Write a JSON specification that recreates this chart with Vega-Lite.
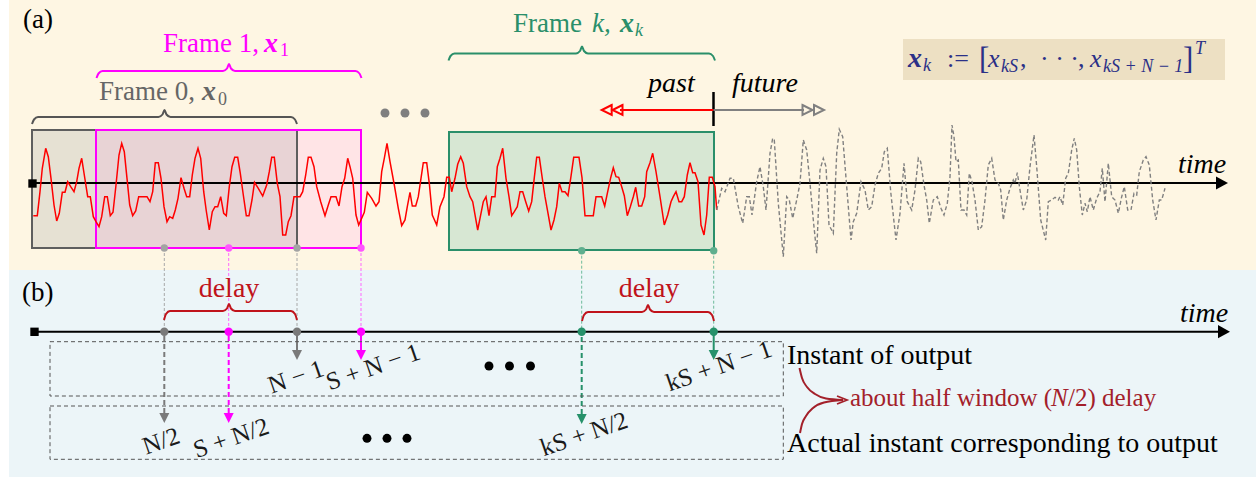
{
  "$schema": "https://vega.github.io/schema/vega-lite/v6.json",
  "width": 1256,
  "height": 477,
  "autosize": {"type": "fit", "contains": "padding"},
  "padding": 0,
  "background": "#ffffff",
  "config": {"view": {"stroke": null}, "text": {"font": "Liberation Serif"}},
  "datasets": {
    "sig": [
      {"x":33.3,"y":215.7},{"x":37.3,"y":215.7},{"x":40,"y":191.7},{"x":42.3,"y":168.3},{"x":45.7,"y":148.3},{"x":48.3,"y":156.7},{"x":51,"y":178.3},{"x":54,"y":205},{"x":56.7,"y":221},{"x":59.3,"y":213.3},{"x":62.3,"y":192.3},{"x":65,"y":192.3},{"x":67.7,"y":181.7},{"x":70.7,"y":186.7},{"x":74,"y":191.7},{"x":76.7,"y":181.7},{"x":79,"y":168.3},{"x":81.7,"y":158.3},{"x":84.3,"y":175},{"x":87.7,"y":196.7},{"x":90.3,"y":196.7},{"x":93.3,"y":216.7},{"x":96,"y":221.7},{"x":99,"y":226.7},{"x":101.7,"y":216.7},{"x":104.7,"y":196.7},{"x":107.3,"y":196.7},{"x":110.3,"y":215.7},{"x":113,"y":212.3},{"x":116,"y":185},{"x":119,"y":155},{"x":121.7,"y":143.3},{"x":124.3,"y":151.7},{"x":127,"y":178.3},{"x":129.7,"y":205},{"x":132.7,"y":215.7},{"x":135.7,"y":211},{"x":138.7,"y":196.7},{"x":144,"y":196.7},{"x":147,"y":196.7},{"x":150,"y":201.7},{"x":152.7,"y":191.7},{"x":155.3,"y":162.7},{"x":158.3,"y":162.7},{"x":161,"y":178.3},{"x":164,"y":206.7},{"x":167,"y":221.7},{"x":169.7,"y":216.7},{"x":172.7,"y":218.3},{"x":175.3,"y":210},{"x":178,"y":198.3},{"x":181,"y":177.7},{"x":184,"y":188.3},{"x":186.7,"y":196.7},{"x":189.7,"y":196.7},{"x":192.3,"y":175},{"x":195,"y":158.3},{"x":198,"y":148.3},{"x":200.7,"y":158.3},{"x":203.7,"y":191.7},{"x":206.3,"y":211},{"x":209.3,"y":230},{"x":212.3,"y":211.7},{"x":215,"y":206.7},{"x":217.7,"y":206.7},{"x":220.7,"y":196.7},{"x":223.7,"y":213.3},{"x":226.3,"y":215.7},{"x":229.3,"y":186.7},{"x":232,"y":166.7},{"x":234.7,"y":157.3},{"x":237.7,"y":157.3},{"x":240.3,"y":173.3},{"x":243.3,"y":195},{"x":246.3,"y":215.7},{"x":249,"y":215.7},{"x":252,"y":200},{"x":254.5,"y":182.3},{"x":258.3,"y":188.3},{"x":262.7,"y":196},{"x":266.7,"y":185},{"x":269.3,"y":171.7},{"x":271.7,"y":157.3},{"x":274.3,"y":157.3},{"x":277.3,"y":183.3},{"x":280,"y":196.7},{"x":282.7,"y":235},{"x":285.7,"y":235},{"x":288.3,"y":221.7},{"x":291,"y":215.7},{"x":294,"y":196.7},{"x":296.7,"y":196.7},{"x":300,"y":196.7},{"x":302.7,"y":191.7},{"x":305.7,"y":175},{"x":308.3,"y":157.3},{"x":311,"y":157.3},{"x":314,"y":166.7},{"x":316.7,"y":186.7},{"x":320.7,"y":201.7},{"x":325,"y":215.7},{"x":328.3,"y":205},{"x":331,"y":196.7},{"x":336,"y":196.7},{"x":339,"y":206},{"x":342,"y":186.7},{"x":344.7,"y":178.3},{"x":347.7,"y":158.3},{"x":350,"y":166.7},{"x":352.7,"y":178.3},{"x":356,"y":215},{"x":358.7,"y":225},{"x":361.7,"y":218.3},{"x":364.3,"y":212.3},{"x":367.3,"y":192.3},{"x":371.7,"y":198.3},{"x":376,"y":206},{"x":379,"y":201.7},{"x":381.7,"y":171.7},{"x":384.3,"y":158.3},{"x":387,"y":143.3},{"x":390,"y":161.7},{"x":394.3,"y":185},{"x":398.3,"y":208.3},{"x":401.7,"y":225.7},{"x":405,"y":220},{"x":407.3,"y":206.7},{"x":410,"y":192.3},{"x":412.3,"y":206},{"x":415.7,"y":206},{"x":418.3,"y":196.7},{"x":421,"y":178.3},{"x":423.3,"y":162.7},{"x":426.7,"y":162.7},{"x":429.3,"y":183.3},{"x":432.3,"y":215},{"x":436.7,"y":225},{"x":440,"y":206.7},{"x":444,"y":196.7},{"x":446.7,"y":177.3},{"x":449.3,"y":177.3},{"x":451.7,"y":191.7},{"x":455,"y":178.3},{"x":457.7,"y":164.3},{"x":460.7,"y":156.7},{"x":463.3,"y":163.3},{"x":466.7,"y":186.7},{"x":470,"y":196.7},{"x":472.7,"y":201.7},{"x":477.7,"y":230},{"x":483.3,"y":201.7},{"x":486,"y":196.7},{"x":489,"y":215.7},{"x":491.7,"y":196.7},{"x":495,"y":196.7},{"x":497.3,"y":166.7},{"x":500,"y":158.3},{"x":502.7,"y":148.3},{"x":506,"y":178.3},{"x":509,"y":196.7},{"x":511.7,"y":215.7},{"x":514.3,"y":211.7},{"x":517.3,"y":206.7},{"x":520,"y":191.7},{"x":522.7,"y":191.7},{"x":525.7,"y":201.7},{"x":528.7,"y":211},{"x":531.7,"y":201.7},{"x":534.3,"y":177.7},{"x":536.7,"y":157.3},{"x":539.3,"y":157.3},{"x":542.3,"y":178.3},{"x":545,"y":196.7},{"x":547.7,"y":211.7},{"x":551,"y":230},{"x":554,"y":220},{"x":556.7,"y":206.7},{"x":559.3,"y":183.3},{"x":562,"y":191.7},{"x":565,"y":191.7},{"x":568,"y":195.7},{"x":570.7,"y":178.3},{"x":573.7,"y":157.3},{"x":579,"y":157.3},{"x":582,"y":177.7},{"x":585,"y":215.7},{"x":593.3,"y":215.7},{"x":596,"y":196.7},{"x":601.7,"y":196.7},{"x":604.7,"y":206},{"x":607.7,"y":191.7},{"x":610.7,"y":177.7},{"x":613.3,"y":167.7},{"x":616,"y":176.7},{"x":618.7,"y":177.3},{"x":621.7,"y":186.7},{"x":624.3,"y":195.7},{"x":627.3,"y":215.7},{"x":630.3,"y":206.7},{"x":633.3,"y":196.7},{"x":635.7,"y":187.3},{"x":638.7,"y":206},{"x":641.7,"y":206},{"x":644.7,"y":196.7},{"x":646.7,"y":171.7},{"x":650,"y":162.7},{"x":652.7,"y":153.3},{"x":656,"y":171.7},{"x":660,"y":196.7},{"x":664.3,"y":225},{"x":667.7,"y":215},{"x":671,"y":201.7},{"x":673.3,"y":196.7},{"x":676,"y":191.7},{"x":679,"y":201.7},{"x":681.7,"y":201.7},{"x":684.3,"y":196.7},{"x":687.3,"y":175},{"x":690,"y":162.7},{"x":692.7,"y":172.7},{"x":695,"y":172.7},{"x":698,"y":181.7},{"x":701,"y":225},{"x":704,"y":235},{"x":706.7,"y":215},{"x":709.3,"y":177.3},{"x":712.3,"y":177.3},{"x":715,"y":186.7},{"x":716.7,"y":210}
    ],
    "fut": [
      {"x":716.7,"y":210},{"x":721.7,"y":188.3},{"x":725,"y":191.7},{"x":730,"y":178.3},{"x":733.3,"y":178.3},{"x":738.3,"y":206.7},{"x":742.7,"y":223.3},{"x":746.7,"y":196.7},{"x":749.3,"y":196.7},{"x":752,"y":215},{"x":756.7,"y":181.7},{"x":760,"y":166.7},{"x":763.3,"y":186.7},{"x":766,"y":210},{"x":770,"y":153.3},{"x":772.7,"y":138.3},{"x":774.3,"y":140},{"x":778.3,"y":203.3},{"x":783.3,"y":256.7},{"x":786.7,"y":196.7},{"x":789.3,"y":200},{"x":792.7,"y":218.3},{"x":796.7,"y":200},{"x":800,"y":183.3},{"x":803.3,"y":140},{"x":806.7,"y":150},{"x":810,"y":183.3},{"x":813.3,"y":220},{"x":816.7,"y":253.3},{"x":820,"y":170},{"x":823.3,"y":158.3},{"x":826,"y":166.7},{"x":829,"y":225},{"x":833.3,"y":233.3},{"x":836.7,"y":153.3},{"x":839.3,"y":129.3},{"x":842.7,"y":136.7},{"x":846.7,"y":186.7},{"x":851,"y":240},{"x":853.3,"y":221.7},{"x":856.7,"y":213.3},{"x":861,"y":181.7},{"x":865,"y":190},{"x":868.3,"y":210},{"x":871.7,"y":206.7},{"x":875,"y":185},{"x":878.3,"y":173.3},{"x":881.7,"y":168.3},{"x":884.3,"y":151.7},{"x":887.3,"y":148.3},{"x":890.7,"y":191.7},{"x":896,"y":240},{"x":900,"y":213.3},{"x":904,"y":163.3},{"x":907.3,"y":201.7},{"x":911.7,"y":210},{"x":915,"y":190},{"x":918.3,"y":158.3},{"x":920.7,"y":161.7},{"x":924,"y":185},{"x":926.7,"y":200},{"x":929.3,"y":223.3},{"x":933.3,"y":200},{"x":937.3,"y":196.7},{"x":941,"y":208.3},{"x":944,"y":215},{"x":947.3,"y":203.3},{"x":950,"y":176.7},{"x":952,"y":125},{"x":954,"y":136.7},{"x":956,"y":161.7},{"x":958.3,"y":160},{"x":961,"y":210},{"x":964,"y":210},{"x":966.7,"y":215},{"x":969.3,"y":173.3},{"x":972,"y":181.7},{"x":975,"y":200},{"x":978.3,"y":230},{"x":981.7,"y":226.7},{"x":985,"y":200},{"x":988.3,"y":165},{"x":991.7,"y":158.3},{"x":995,"y":180},{"x":998.3,"y":183.3},{"x":1000.7,"y":190},{"x":1003.3,"y":220},{"x":1006.7,"y":200},{"x":1010,"y":188.3},{"x":1013.3,"y":180},{"x":1015,"y":183.3},{"x":1017.3,"y":172.7},{"x":1020,"y":190},{"x":1023.3,"y":210},{"x":1026.7,"y":200},{"x":1030,"y":166.7},{"x":1034,"y":135},{"x":1036.7,"y":166.7},{"x":1040.7,"y":220},{"x":1045.7,"y":240},{"x":1048.3,"y":201.7},{"x":1051.7,"y":200},{"x":1055,"y":197.3},{"x":1058.3,"y":200},{"x":1060,"y":196.7},{"x":1062.7,"y":205},{"x":1065.7,"y":178.3},{"x":1068.3,"y":173.3},{"x":1071.7,"y":150},{"x":1074.3,"y":138.3},{"x":1076.7,"y":150},{"x":1079.3,"y":186.7},{"x":1082.3,"y":215},{"x":1085,"y":203.3},{"x":1087.3,"y":211.7},{"x":1090,"y":196.7},{"x":1093.3,"y":210},{"x":1096.7,"y":198.3},{"x":1100,"y":191.7},{"x":1102.3,"y":168.3},{"x":1105,"y":201.7},{"x":1108.3,"y":163.3},{"x":1111.7,"y":196.7},{"x":1115,"y":200},{"x":1118.3,"y":213.3},{"x":1121.7,"y":196.7},{"x":1124.3,"y":186.7},{"x":1127.7,"y":210},{"x":1131,"y":210},{"x":1134,"y":193.3},{"x":1136.7,"y":195},{"x":1139.3,"y":171.7},{"x":1143.3,"y":160},{"x":1146,"y":156.7},{"x":1149.3,"y":165},{"x":1152.7,"y":200},{"x":1156,"y":220},{"x":1159.3,"y":200},{"x":1161.7,"y":200},{"x":1165,"y":188.3}
    ],
    "braces": [
      {"g":"f0","x":32,"y":124},{"g":"f0","x":34,"y":119.5},{"g":"f0","x":38,"y":117},{"g":"f0","x":158.5,"y":117},{"g":"f0","x":162.5,"y":114.5},{"g":"f0","x":164.5,"y":110},{"g":"f0","x":166.5,"y":114.5},{"g":"f0","x":170.5,"y":117},{"g":"f0","x":291,"y":117},{"g":"f0","x":295,"y":119.5},{"g":"f0","x":297,"y":124},
      {"g":"f1","x":96.5,"y":78},{"g":"f1","x":98.5,"y":73.5},{"g":"f1","x":102.5,"y":71},{"g":"f1","x":223,"y":71},{"g":"f1","x":227,"y":68.5},{"g":"f1","x":229,"y":64},{"g":"f1","x":231,"y":68.5},{"g":"f1","x":235,"y":71},{"g":"f1","x":355.5,"y":71},{"g":"f1","x":359.5,"y":73.5},{"g":"f1","x":361.5,"y":78},
      {"g":"fk","x":448.5,"y":60.5},{"g":"fk","x":450.5,"y":56},{"g":"fk","x":454.5,"y":53.5},{"g":"fk","x":576,"y":53.5},{"g":"fk","x":580,"y":51},{"g":"fk","x":582,"y":46.5},{"g":"fk","x":584,"y":51},{"g":"fk","x":588,"y":53.5},{"g":"fk","x":709,"y":53.5},{"g":"fk","x":713,"y":56},{"g":"fk","x":715,"y":60.5}
    ],
    "delaybraces": [
      {"g":"d1","x":164,"y":320},{"g":"d1","x":166,"y":314},{"g":"d1","x":170,"y":311},{"g":"d1","x":223,"y":311},{"g":"d1","x":227,"y":308.5},{"g":"d1","x":229,"y":304},{"g":"d1","x":231,"y":308.5},{"g":"d1","x":235,"y":311},{"g":"d1","x":291,"y":311},{"g":"d1","x":295,"y":314},{"g":"d1","x":297,"y":320},
      {"g":"d2","x":582,"y":321},{"g":"d2","x":584,"y":315},{"g":"d2","x":588,"y":312},{"g":"d2","x":642,"y":312},{"g":"d2","x":646,"y":309.5},{"g":"d2","x":648,"y":305},{"g":"d2","x":650,"y":309.5},{"g":"d2","x":654,"y":312},{"g":"d2","x":708,"y":312},{"g":"d2","x":712,"y":315},{"g":"d2","x":714,"y":321}
    ]
  },
  "encoding": {
    "x": {"field": "x", "type": "quantitative", "scale": {"domain": [0, 1256], "nice": false, "zero": false}, "axis": null},
    "y": {"field": "y", "type": "quantitative", "scale": {"domain": [0, 477], "reverse": true, "nice": false, "zero": false}, "axis": null}
  },
  "layer": [
    {"data": {"values": [{"x": 9, "x2": 1256, "y": 0, "y2": 270}]}, "mark": {"type": "rect", "color": "#FEF6E3"}, "encoding": {"x2": {"field": "x2"}, "y2": {"field": "y2"}}},
    {"data": {"values": [{"x": 9, "x2": 1256, "y": 270, "y2": 477}]}, "mark": {"type": "rect", "color": "#ECF5F8"}, "encoding": {"x2": {"field": "x2"}, "y2": {"field": "y2"}}},
    {"data": {"values": [
      {"g": "a", "x": 32, "x2": 96, "y": 130, "y2": 248},
      {"g": "b", "x": 96, "x2": 297, "y": 130, "y2": 248},
      {"g": "c", "x": 297, "x2": 361, "y": 130, "y2": 248},
      {"g": "d", "x": 449, "x2": 714, "y": 132, "y2": 250}]},
     "mark": {"type": "rect"},
     "encoding": {"x2": {"field": "x2"}, "y2": {"field": "y2"}, "color": {"field": "g", "type": "nominal", "scale": {"domain": ["a", "b", "c", "d"], "range": ["#E6E1D3", "#E8D3D5", "#FFE4E6", "#D7E7D3"]}, "legend": null}}},
    {"data": {"values": [{"x": 903, "x2": 1225, "y": 39, "y2": 80}]}, "mark": {"type": "rect", "color": "#EDE0C3"}, "encoding": {"x2": {"field": "x2"}, "y2": {"field": "y2"}}},
    {"data": {"values": [
      {"g": "f0", "x": 164.3, "y": 248, "y2": 331.7},
      {"g": "f1", "x": 228.7, "y": 248, "y2": 331.7},
      {"g": "f0", "x": 297, "y": 248, "y2": 331.7},
      {"g": "f1", "x": 361, "y": 248, "y2": 331.7},
      {"g": "fk", "x": 581.7, "y": 250.7, "y2": 331.7},
      {"g": "fk", "x": 713.7, "y": 250.7, "y2": 331.7}]},
     "mark": {"type": "rule", "strokeWidth": 1, "strokeDash": [3, 2]},
     "encoding": {"y2": {"field": "y2"}, "color": {"field": "g", "type": "nominal", "scale": {"domain": ["f0", "f1", "fk"], "range": ["#A8A8A8", "#FF66FF", "#6DBB9B"]}, "legend": null}}},
    {"data": {"values": [
      {"g": "f0", "x": 32, "x2": 297, "y": 130, "y2": 248},
      {"g": "f1", "x": 96, "x2": 361, "y": 130, "y2": 248},
      {"g": "fk", "x": 449, "x2": 714, "y": 132, "y2": 250}]},
     "mark": {"type": "rect", "filled": false, "strokeWidth": 2},
     "encoding": {"x2": {"field": "x2"}, "y2": {"field": "y2"}, "color": {"field": "g", "type": "nominal", "scale": {"domain": ["f0", "f1", "fk"], "range": ["#5E5E5E", "#FF00FF", "#2A8F6A"]}, "legend": null}}},
    {"data": {"values": [{"x": 32, "x2": 1218, "y": 183}, {"x": 33, "x2": 1220, "y": 331.7}]}, "mark": {"type": "rule", "color": "#000000", "strokeWidth": 2}, "encoding": {"x2": {"field": "x2"}}},
    {"data": {"name": "sig"}, "mark": {"type": "line", "color": "#FF0000", "strokeWidth": 1.5}, "encoding": {}},
    {"data": {"name": "fut"}, "mark": {"type": "line", "color": "#808080", "strokeWidth": 1.4, "strokeDash": [4, 2.5]}, "encoding": {}},
    {"data": {"values": [{"x": 1222, "y": 183}, {"x": 1224, "y": 331.7}]}, "mark": {"type": "point", "shape": "M-1,-1.1L1,0L-1,1.1Z", "filled": true, "color": "#000000", "opacity": 1, "size": 144}, "encoding": {}},
    {"data": {"values": [{"x": 32.5, "y": 183.5}, {"x": 34.5, "y": 331.8}]}, "mark": {"type": "point", "shape": "square", "filled": true, "color": "#000000", "opacity": 1, "size": 70}, "encoding": {}},
    {"data": {"name": "braces"}, "mark": {"type": "line", "strokeWidth": 2, "interpolate": "monotone"},
     "encoding": {"color": {"field": "g", "type": "nominal", "scale": {"domain": ["f0", "f1", "fk"], "range": ["#555555", "#FF00FF", "#2A8F6A"]}, "legend": null}}},
    {"data": {"name": "delaybraces"}, "mark": {"type": "line", "strokeWidth": 2, "interpolate": "monotone", "color": "#C0131B"}, "encoding": {"detail": {"field": "g"}}},
    {"data": {"values": [
      {"g": "f0", "x": 164.3, "y": 248}, {"g": "f1", "x": 228.7, "y": 248}, {"g": "f0", "x": 297, "y": 248}, {"g": "f1", "x": 361, "y": 248}, {"g": "fk", "x": 581.7, "y": 250.7}, {"g": "fk", "x": 713.7, "y": 250.7}]},
     "mark": {"type": "point", "filled": true, "opacity": 1, "size": 55, "shape": "circle"},
     "encoding": {"color": {"field": "g", "type": "nominal", "scale": {"domain": ["f0", "f1", "fk"], "range": ["#A3A3A3", "#FF55FF", "#5FAF8E"]}, "legend": null}}},
    {"data": {"values": [
      {"g": "f0", "x": 164.3, "y": 413, "y2": 331.7}, {"g": "f1", "x": 228.7, "y": 413, "y2": 331.7}, {"g": "fk", "x": 581.7, "y": 414, "y2": 331.7}]},
     "mark": {"type": "rule", "strokeWidth": 2, "strokeDash": [5, 3]},
     "encoding": {"y2": {"field": "y2"}, "color": {"field": "g", "type": "nominal", "scale": {"domain": ["f0", "f1", "fk"], "range": ["#7A7A7A", "#FF00FF", "#26916A"]}, "legend": null}}},
    {"data": {"values": [
      {"g": "f0", "x": 297, "y": 350, "y2": 331.7}, {"g": "f1", "x": 361, "y": 350, "y2": 331.7}, {"g": "fk", "x": 713.7, "y": 350, "y2": 331.7}]},
     "mark": {"type": "rule", "strokeWidth": 2},
     "encoding": {"y2": {"field": "y2"}, "color": {"field": "g", "type": "nominal", "scale": {"domain": ["f0", "f1", "fk"], "range": ["#7A7A7A", "#FF00FF", "#26916A"]}, "legend": null}}},
    {"data": {"values": [
      {"g": "f0", "x": 164.3, "y": 418}, {"g": "f1", "x": 228.7, "y": 418}, {"g": "fk", "x": 581.7, "y": 419},
      {"g": "f0", "x": 297, "y": 355}, {"g": "f1", "x": 361, "y": 355}, {"g": "fk", "x": 713.7, "y": 355}]},
     "mark": {"type": "point", "shape": "M-1,-1L1,-1L0,1Z", "filled": true, "opacity": 1, "size": 100},
     "encoding": {"color": {"field": "g", "type": "nominal", "scale": {"domain": ["f0", "f1", "fk"], "range": ["#7A7A7A", "#FF00FF", "#26916A"]}, "legend": null}}},
    {"data": {"values": [
      {"g": "f0", "x": 164.3, "y": 331.7}, {"g": "f1", "x": 228.7, "y": 331.7}, {"g": "f0", "x": 297, "y": 331.7}, {"g": "f1", "x": 361, "y": 331.7}, {"g": "fk", "x": 581.7, "y": 331.7}, {"g": "fk", "x": 713.7, "y": 331.7}]},
     "mark": {"type": "point", "filled": true, "opacity": 1, "size": 70, "shape": "circle"},
     "encoding": {"color": {"field": "g", "type": "nominal", "scale": {"domain": ["f0", "f1", "fk"], "range": ["#7A7A7A", "#FF00FF", "#26916A"]}, "legend": null}}},
    {"data": {"values": [{"x": 50, "x2": 783.3, "y": 341.7, "y2": 396}, {"x": 50, "x2": 783.3, "y": 406, "y2": 459.3}]},
     "mark": {"type": "rect", "filled": false, "stroke": "#555555", "strokeWidth": 1, "strokeDash": [4, 3]},
     "encoding": {"x2": {"field": "x2"}, "y2": {"field": "y2"}}},
    {"data": {"values": [{"x": 385, "y": 113}, {"x": 405, "y": 113}, {"x": 425, "y": 113}]}, "mark": {"type": "point", "shape": "circle", "filled": true, "opacity": 1, "color": "#7F7F7F", "size": 80}, "encoding": {}},
    {"data": {"values": [{"x": 489, "y": 366}, {"x": 509.5, "y": 366}, {"x": 530.5, "y": 366}, {"x": 367, "y": 438.3}, {"x": 387, "y": 438.3}, {"x": 407, "y": 438.3}]}, "mark": {"type": "point", "shape": "circle", "filled": true, "opacity": 1, "color": "#000000", "size": 80}, "encoding": {}},
    {"data": {"values": [{"x": 713.5, "y": 92, "y2": 126}]}, "mark": {"type": "rule", "color": "#000000", "strokeWidth": 2.5}, "encoding": {"y2": {"field": "y2"}}},
    {"data": {"values": [{"x": 620, "x2": 713.5, "y": 110}]}, "mark": {"type": "rule", "color": "#FF0000", "strokeWidth": 2}, "encoding": {"x2": {"field": "x2"}}},
    {"data": {"values": [{"x": 713.5, "x2": 804, "y": 110}]}, "mark": {"type": "rule", "color": "#808080", "strokeWidth": 2}, "encoding": {"x2": {"field": "x2"}}},
    {"data": {"values": [{"x": 606.7, "y": 110}, {"x": 617.5, "y": 110}]}, "mark": {"type": "point", "shape": "M1,-1L-1,0L1,1Z", "filled": false, "color": "#FF0000", "strokeWidth": 2, "opacity": 1, "size": 100}, "encoding": {}},
    {"data": {"values": [{"x": 807.5, "y": 110}, {"x": 819, "y": 110}]}, "mark": {"type": "point", "shape": "M-1,-1L1,0L-1,1Z", "filled": false, "color": "#808080", "strokeWidth": 2, "opacity": 1, "size": 100}, "encoding": {}},
    {"data": {"values": [
      {"g": "c1", "x": 799.5, "y": 368}, {"g": "c1", "x": 802, "y": 378}, {"g": "c1", "x": 807, "y": 387}, {"g": "c1", "x": 815, "y": 394}, {"g": "c1", "x": 826, "y": 398.5}, {"g": "c1", "x": 843, "y": 400},
      {"g": "c2", "x": 800, "y": 433}, {"g": "c2", "x": 802, "y": 424}, {"g": "c2", "x": 806, "y": 416}, {"g": "c2", "x": 813, "y": 408}, {"g": "c2", "x": 824, "y": 402.5}, {"g": "c2", "x": 843, "y": 400}]},
     "mark": {"type": "line", "color": "#A3202A", "strokeWidth": 2, "interpolate": "monotone"}, "encoding": {"detail": {"field": "g"}}},
    {"data": {"values": [{"x": 842, "y": 400}]}, "mark": {"type": "point", "shape": "M-1,-0.8L1,0L-1,0.8", "filled": false, "color": "#A3202A", "strokeWidth": 1.8, "opacity": 1, "size": 100}, "encoding": {}},
    {"data": {"values": [{"g": "f0", "x": 99, "y": 100, "t": "Frame 0,"}, {"g": "f1", "x": 163, "y": 51.7, "t": "Frame 1,"}, {"g": "fk", "x": 513, "y": 31.7, "t": "Frame"}]},
     "mark": {"type": "text", "align": "left", "baseline": "alphabetic", "fontSize": 27},
     "encoding": {"text": {"field": "t"}, "color": {"field": "g", "type": "nominal", "scale": {"domain": ["f0", "f1", "fk"], "range": ["#666666", "#FF00FF", "#2A8F6A"]}, "legend": null}}},
    {"data": {"values": [{"g": "f0", "x": 202, "y": 100, "t": "x"}, {"g": "f1", "x": 264, "y": 51.7, "t": "x"}, {"g": "fk", "x": 620, "y": 31.7, "t": "x"}]},
     "mark": {"type": "text", "align": "left", "baseline": "alphabetic", "fontSize": 28, "fontStyle": "italic", "fontWeight": "bold"},
     "encoding": {"text": {"field": "t"}, "color": {"field": "g", "type": "nominal", "scale": {"domain": ["f0", "f1", "fk"], "range": ["#666666", "#FF00FF", "#2A8F6A"]}, "legend": null}}},
    {"data": {"values": [{"g": "f0", "x": 218, "y": 104.5, "t": "0"}, {"g": "f1", "x": 280, "y": 56, "t": "1"}]},
     "mark": {"type": "text", "align": "left", "baseline": "alphabetic", "fontSize": 18},
     "encoding": {"text": {"field": "t"}, "color": {"field": "g", "type": "nominal", "scale": {"domain": ["f0", "f1", "fk"], "range": ["#666666", "#FF00FF", "#2A8F6A"]}, "legend": null}}},
    {"data": {"values": [{"x": 592, "y": 31.7, "t": "k,"}]}, "mark": {"type": "text", "align": "left", "baseline": "alphabetic", "fontSize": 27, "fontStyle": "italic", "color": "#2A8F6A"}, "encoding": {"text": {"field": "t"}}},
    {"data": {"values": [{"x": 635, "y": 36, "t": "k"}]}, "mark": {"type": "text", "align": "left", "baseline": "alphabetic", "fontSize": 18, "fontStyle": "italic", "color": "#2A8F6A"}, "encoding": {"text": {"field": "t"}}},
    {"data": {"values": [{"x": 23, "y": 28, "t": "(a)"}, {"x": 22, "y": 301, "t": "(b)"}]}, "mark": {"type": "text", "align": "left", "baseline": "alphabetic", "fontSize": 27, "color": "#000000"}, "encoding": {"text": {"field": "t"}}},
    {"data": {"values": [{"x": 648, "y": 91.7, "t": "past"}, {"x": 732, "y": 91.7, "t": "future"}, {"x": 1178, "y": 173, "t": "time"}, {"x": 1180, "y": 321.5, "t": "time"}]},
     "mark": {"type": "text", "align": "left", "baseline": "alphabetic", "fontSize": 28, "fontStyle": "italic", "color": "#000000"}, "encoding": {"text": {"field": "t"}}},
    {"data": {"values": [{"x": 908, "y": 66.5, "t": "x"}]}, "mark": {"type": "text", "align": "left", "baseline": "alphabetic", "fontSize": 28, "fontStyle": "italic", "fontWeight": "bold", "color": "#2B3087"}, "encoding": {"text": {"field": "t"}}},
    {"data": {"values": [{"x": 947, "y": 66.5, "t": ":="}, {"x": 1020, "y": 66.5, "t": ","}, {"x": 1040, "y": 66.5, "t": "· · ·"}, {"x": 1078, "y": 66.5, "t": ","}]},
     "mark": {"type": "text", "align": "left", "baseline": "alphabetic", "fontSize": 26, "color": "#2B3087"}, "encoding": {"text": {"field": "t"}}},
    {"data": {"values": [{"x": 979, "y": 69, "t": "["}, {"x": 1183, "y": 69, "t": "]"}]},
     "mark": {"type": "text", "align": "left", "baseline": "alphabetic", "fontSize": 31, "color": "#2B3087"}, "encoding": {"text": {"field": "t"}}},
    {"data": {"values": [{"x": 988, "y": 66.5, "t": "x"}, {"x": 1090, "y": 66.5, "t": "x"}]},
     "mark": {"type": "text", "align": "left", "baseline": "alphabetic", "fontSize": 26, "fontStyle": "italic", "color": "#2B3087"}, "encoding": {"text": {"field": "t"}}},
    {"data": {"values": [{"x": 923, "y": 70.5, "t": "k"}, {"x": 1001, "y": 71.5, "t": "kS"}, {"x": 1103, "y": 71.5, "t": "kS + N − 1"}, {"x": 1195, "y": 54, "t": "T"}]},
     "mark": {"type": "text", "align": "left", "baseline": "alphabetic", "fontSize": 18, "fontStyle": "italic", "color": "#2B3087"}, "encoding": {"text": {"field": "t"}}},
    {"data": {"values": [{"x": 229, "y": 296.5, "t": "delay"}, {"x": 649, "y": 297, "t": "delay"}]},
     "mark": {"type": "text", "align": "center", "baseline": "alphabetic", "fontSize": 28, "color": "#C0131B"}, "encoding": {"text": {"field": "t"}}},
    {"data": {"values": [{"x": 787, "y": 364, "t": "Instant of output"}, {"x": 787, "y": 452, "t": "Actual instant corresponding to output"}]},
     "mark": {"type": "text", "align": "left", "baseline": "alphabetic", "fontSize": 28, "color": "#000000"}, "encoding": {"text": {"field": "t"}}},
    {"data": {"values": [{"x": 850, "y": 406, "t": "about half window ("}, {"x": 1068, "y": 406, "t": "/2) delay"}]},
     "mark": {"type": "text", "align": "left", "baseline": "alphabetic", "fontSize": 25, "color": "#A3202A"}, "encoding": {"text": {"field": "t"}}},
    {"data": {"values": [{"x": 1051, "y": 406, "t": "N"}]},
     "mark": {"type": "text", "align": "left", "baseline": "alphabetic", "fontSize": 25, "fontStyle": "italic", "color": "#A3202A"}, "encoding": {"text": {"field": "t"}}},
    {"data": {"values": [
      {"x": 296, "y": 377, "t": "N − 1"}, {"x": 373, "y": 367, "t": "S + N − 1"}, {"x": 161, "y": 441, "t": "N/2"}, {"x": 231, "y": 438, "t": "S + N/2"}, {"x": 719, "y": 366, "t": "kS + N − 1"}, {"x": 584, "y": 434, "t": "kS + N/2"}]},
     "mark": {"type": "text", "align": "center", "baseline": "middle", "fontSize": 25, "angle": 341, "color": "#1A1A1A"}, "encoding": {"text": {"field": "t"}}}
  ],
  "resolve": {"scale": {"color": "independent"}}
}
